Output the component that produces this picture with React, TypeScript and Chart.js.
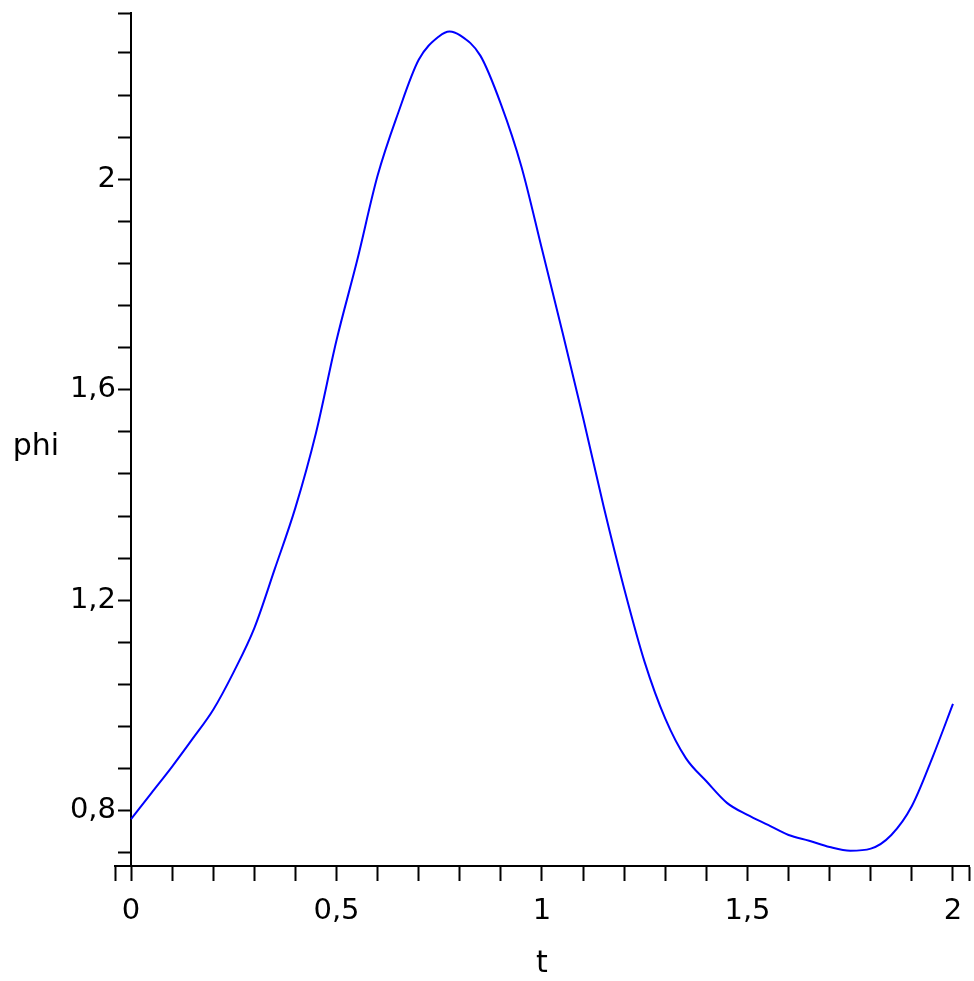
import React, { useEffect, useRef } from "react";
import { Chart, registerables, LinearScale } from "chart.js";

// Linear scale whose tick labels keep clear of the tick marks when the axis
// is placed at a data value (position: { x: 0 }).
class CrossLinearScale extends (LinearScale as any) {
  static id = "crossLinear";
  static defaults = (LinearScale as any).defaults;
  _computeLabelItems(chartArea: any) {
    const items = super._computeLabelItems(chartArea);
    const o: any = (this as any).options;
    if ((this as any).axis === "y") {
      const shift = (o.grid.tickLength || 0) + (o.ticks.padding || 0) + (o.border.width || 0) / 2;
      items.forEach((it: any) => {
        if (it.options && it.options.translation) it.options.translation[0] -= shift;
      });
    } else {
      const shift = o.ticks.extraOffset || 0;
      items.forEach((it: any) => {
        if (it.options && it.options.translation) it.options.translation[1] += shift;
      });
    }
    return items;
  }
}

Chart.register(...registerables, CrossLinearScale as any);

// Curve samples (t, phi)
const tValues = [
  0, 0.05, 0.1, 0.15, 0.2, 0.25, 0.3, 0.35, 0.4, 0.45,
  0.5, 0.55, 0.6, 0.65, 0.7, 0.75, 0.775, 0.8, 0.85, 0.9,
  0.95, 1.0, 1.05, 1.1, 1.15, 1.2, 1.25, 1.3, 1.35, 1.4,
  1.45, 1.5, 1.55, 1.6, 1.65, 1.7, 1.75, 1.8, 1.85, 1.9,
  1.95, 2.0,
];
const phiValues = [
  0.784, 0.834, 0.884, 0.937, 0.992, 1.064, 1.147, 1.26, 1.376, 1.518,
  1.694, 1.845, 2.007, 2.126, 2.227, 2.272, 2.281, 2.274, 2.235, 2.143,
  2.024, 1.867, 1.709, 1.547, 1.378, 1.222, 1.082, 0.975, 0.9, 0.856,
  0.815, 0.792, 0.773, 0.754, 0.743, 0.731, 0.724, 0.728, 0.754, 0.809,
  0.901, 1.003,
];

// Axis ranges
const xRange = [-0.039, 2.039];
const yRange = [0.695, 2.316];

// Tick positions (minor + labelled)
const xTickValues = [
  -0.039, 0, 0.1, 0.2, 0.3, 0.4, 0.5, 0.6, 0.7, 0.8, 0.9, 1.0,
  1.1, 1.2, 1.3, 1.4, 1.5, 1.6, 1.7, 1.8, 1.9, 2.0, 2.039,
];
const xLabelled = [0, 0.5, 1, 1.5, 2];
const yTickValues = [
  0.72, 0.8, 0.88, 0.96, 1.04, 1.12, 1.2, 1.28, 1.36, 1.44, 1.52,
  1.6, 1.68, 1.76, 1.84, 1.92, 2.0, 2.08, 2.16, 2.24, 2.316,
];
const yLabelled = [0.8, 1.2, 1.6, 2];

const xTitle = "t";
const yTitle = "phi";

const FONT = '"DejaVu Sans", Verdana, sans-serif';
const TICK_FONT_SIZE = 29;
const TITLE_FONT_SIZE = 30;

const fmt = (v: number, list: number[]) =>
  list.some((m) => Math.abs(m - v) < 1e-6) ? String(v).replace(".", ",") : "";

const clearPadding = (s: any) => {
  s.paddingLeft = 0;
  s.paddingRight = 0;
  s.paddingTop = 0;
  s.paddingBottom = 0;
};

export default function App() {
  const ref = useRef<HTMLCanvasElement | null>(null);

  useEffect(() => {
    if (!ref.current) return;
    const titles = {
      id: "axisTitles",
      afterDraw(chart: any) {
        const { ctx, chartArea } = chart;
        ctx.save();
        ctx.fillStyle = "#000";
        ctx.font = `${TITLE_FONT_SIZE}px ${FONT}`;
        ctx.textAlign = "center";
        ctx.textBaseline = "alphabetic";
        ctx.fillText(yTitle, chartArea.left - 79, (chartArea.top + chartArea.bottom) / 2 + 15);
        ctx.fillText(xTitle, (chartArea.left + chartArea.right) / 2, chartArea.bottom + 106);
        ctx.restore();
      },
    };
    const chart = new Chart(ref.current, {
      type: "line",
      data: {
        datasets: [
          {
            data: tValues.map((t, i) => ({ x: t, y: phiValues[i] })),
            borderColor: "#0000ff",
            borderWidth: 2,
            pointRadius: 0,
            cubicInterpolationMode: "monotone",
            fill: false,
          },
        ],
      },
      options: {
        animation: false,
        responsive: false,
        devicePixelRatio: 1,
        layout: { padding: { left: 115, right: 5, top: 13, bottom: 115 } },
        plugins: { legend: { display: false }, tooltip: { enabled: false } },
        scales: {
          x: {
            type: "crossLinear" as any,
            min: xRange[0],
            max: xRange[1],
            position: { y: yRange[0] } as any,
            afterBuildTicks: (s: any) => {
              s.ticks = xTickValues.map((v) => ({ value: v }));
            },
            afterFit: clearPadding,
            ticks: {
              autoSkip: false,
              maxRotation: 0,
              color: "#000",
              font: { family: FONT, size: TICK_FONT_SIZE },
              padding: 8,
              extraOffset: 6,
              callback: (v: any) => fmt(Number(v), xLabelled),
            } as any,
            grid: {
              drawOnChartArea: false,
              drawTicks: true,
              tickLength: 14,
              tickColor: "#000",
              tickWidth: 2,
            },
            border: { display: true, color: "#000", width: 2 },
          },
          y: {
            type: "crossLinear" as any,
            min: yRange[0],
            max: yRange[1],
            position: { x: 0 } as any,
            afterBuildTicks: (s: any) => {
              s.ticks = yTickValues.map((v) => ({ value: v }));
            },
            afterFit: clearPadding,
            ticks: {
              autoSkip: false,
              color: "#000",
              font: { family: FONT, size: TICK_FONT_SIZE },
              padding: 2,
              callback: (v: any) => fmt(Number(v), yLabelled),
            },
            grid: {
              drawOnChartArea: false,
              drawTicks: true,
              tickLength: 12,
              tickColor: "#000",
              tickWidth: 2,
            },
            border: { display: true, color: "#000", width: 2 },
          },
        },
      },
      plugins: [titles],
    });
    return () => chart.destroy();
  }, []);

  return (
    <div style={{ position: "absolute", left: 0, top: 0, width: 974, height: 981, background: "#fff" }}>
      <canvas ref={ref} width={974} height={981} style={{ display: "block" }} />
    </div>
  );
}
